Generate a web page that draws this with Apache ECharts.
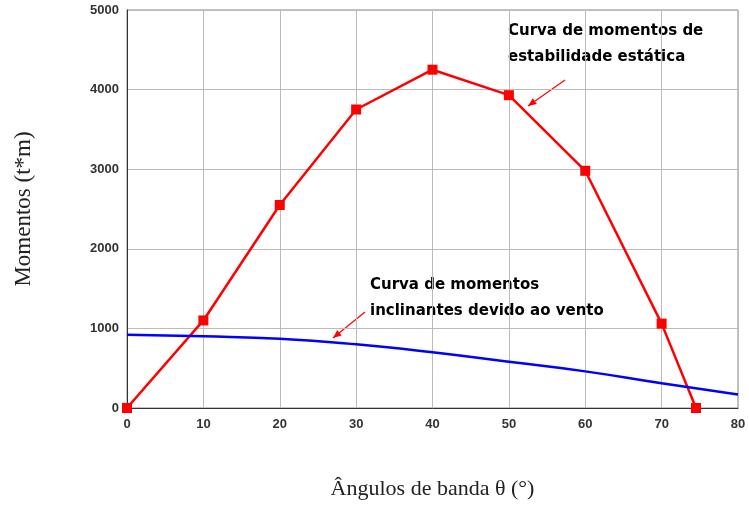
<!DOCTYPE html><html><head><meta charset="utf-8"><script src="https://cdn.jsdelivr.net/npm/echarts@6/dist/echarts.min.js"></script></head><body style="margin:0"><div id="c" style="width:749px;height:508px"></div><script>
const xStatic=[0,10,20,30,40,50,60,70,74.5];
const yStatic=[0,1100,2550,3750,4250,3930,2980,1060,0];
const xWind=[0,10,20,30,40,50,60,70,80];
const yWind=[920,900,870,800,700,580,460,310,170];
const xTicks=[0,10,20,30,40,50,60,70,80];
const yTicks=[0,1000,2000,3000,4000,5000];
const c=echarts.init(document.getElementById('c'));
function arrow(x1,y1,x2,y2){const a=Math.atan2(y2-y1,x2-x1),L=9,W=0.4;
return [{type:'line',shape:{x1,y1,x2,y2},style:{stroke:'#ff0000',lineWidth:1.2}},
{type:'polygon',shape:{points:[[x2,y2],[x2-L*Math.cos(a-W),y2-L*Math.sin(a-W)],[x2-L*Math.cos(a+W),y2-L*Math.sin(a+W)]]},style:{fill:'#ff0000'}}];}
c.setOption({animation:false,
grid:{left:127,right:11,top:10,bottom:100,show:true,borderColor:'#888',borderWidth:1},
xAxis:{type:'value',min:0,max:80,interval:10,name:'Ângulos de banda θ (°)',nameLocation:'middle',nameGap:70,
nameTextStyle:{fontFamily:'Liberation Serif',fontSize:22,color:'#222'},
axisLine:{lineStyle:{color:'#333'}},axisTick:{show:false},splitLine:{lineStyle:{color:'#bbb'}},
axisLabel:{color:'#333',fontWeight:'bold',fontSize:13,fontFamily:'Liberation Sans',margin:10,formatter:v=>xTicks.includes(v)?String(v):''}},
yAxis:{type:'value',min:0,max:5000,interval:1000,name:'Momentos (t*m)',nameLocation:'middle',nameGap:92,
nameTextStyle:{fontFamily:'Liberation Serif',fontSize:23,color:'#222'},
axisLine:{show:true,lineStyle:{color:'#333'}},axisTick:{show:false},splitLine:{lineStyle:{color:'#bbb'}},
axisLabel:{color:'#333',fontWeight:'bold',fontSize:13,fontFamily:'Liberation Sans',margin:8,formatter:v=>yTicks.includes(v)?String(v):''}},
series:[
{type:'line',data:xStatic.map((x,i)=>[x,yStatic[i]]),symbol:'rect',symbolSize:10,lineStyle:{color:'#ff0000',width:2.5},itemStyle:{color:'#ff0000'}},
{type:'line',data:xWind.map((x,i)=>[x,yWind[i]]),symbol:'none',smooth:true,lineStyle:{color:'#0000ff',width:2.5}}],
graphic:[
{type:'text',left:508,top:18,style:{text:'Curva de momentos de\nestabilidade estática',font:'bold 15px "DejaVu Sans"',fill:'#000',lineHeight:26}},
{type:'text',left:370,top:272,style:{text:'Curva de momentos\ninclinantes devido ao vento',font:'bold 15px "DejaVu Sans"',fill:'#000',lineHeight:26}},
...arrow(565,80,528,106),...arrow(365,312,333,338)]});
</script></body></html>
